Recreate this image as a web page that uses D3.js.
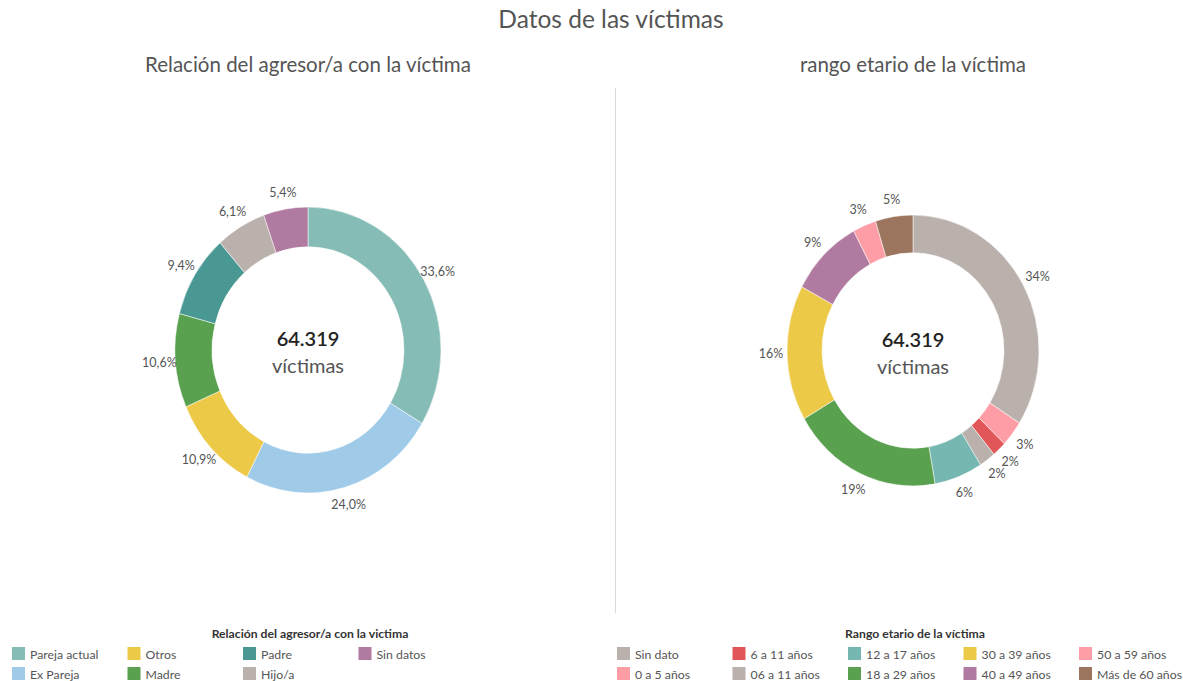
<!DOCTYPE html>
<html>
<head>
<meta charset="utf-8">
<script src="https://cdn.jsdelivr.net/npm/d3@7"></script>
<style>
  body { margin: 0; background: #fff; }
  svg { display: block; font-family: Lato, 'Open Sans', sans-serif; }
</style>
</head>
<body>
<svg class="victimasSVG" width="1183" height="681"></svg>
<script>
// data
const totalVictimas = 64319;

const relCats = ['Pareja actual', 'Ex Pareja', 'Otros', 'Madre', 'Padre', 'Hijo/a', 'Sin datos'];
const relPct = [33.6, 24.0, 10.9, 10.6, 9.4, 6.1, 5.4];
const relColors = ['#86bcb6', '#a0cbe8', '#edc948', '#59a14f', '#499894', '#bab0ac', '#b07aa1'];

const ageCats = ['Sin dato', '0 a 5 años', '6 a 11 años', '06 a 11 años', '12 a 17 años',
                 '18 a 29 años', '30 a 39 años', '40 a 49 años', '50 a 59 años', 'Más de 60 años'];
const agePct = [34.0, 3.1, 1.8, 2.1, 6.2, 19.4, 16.2, 9.4, 3.0, 4.8];
const ageColors = ['#bab0ac', '#ff9da7', '#e15759', '#bab0ac', '#76b7b2',
                   '#59a14f', '#edc948', '#b07aa1', '#ff9da7', '#9c755f'];

const es = d3.formatLocale({decimal: ',', thousands: '.', grouping: [3], currency: ['$', '']});

function drawDashboard(){
  const svg = d3.select('svg.victimasSVG');
  const stretch = 1.075; // the picture is a bit taller than wide

  svg.append('text')
    .text('Datos de las víctimas')
    .attrs({x: 611, y: 28, 'text-anchor': 'middle'})
    .styles({fill: '#555', 'font-size': '24.5px'});

  svg.append('line')
    .attrs({x1: 615.5, x2: 615.5, y1: 88, y2: 613})
    .styles({stroke: '#d9d9d9', 'stroke-width': 1});

  function drawDonut(opts){
    const {cats, vals, colors, cx, cy, rOuter, rInner, fmt, subtitle} = opts;

    svg.append('text')
      .text(subtitle)
      .attrs({x: cx, y: 72, 'text-anchor': 'middle'})
      .styles({fill: '#555', 'font-size': '20.5px'});

    const pie = d3.pie().sort(null).value(d => d);
    const arcs = pie(vals);
    const arc = d3.arc().innerRadius(rInner).outerRadius(rOuter);
    const labelArc = d3.arc().innerRadius(rOuter + 16).outerRadius(rOuter + 16);

    svg.append('g')
      .attr('transform', `translate(${cx},${cy}) scale(1,${stretch})`)
      .selectAll('path')
      .data(arcs)
      .enter()
      .append('path')
      .attr('d', arc)
      .style('fill', (d, i) => colors[i])
      .style('stroke', '#fff')
      .style('stroke-width', 0.5);

    svg.append('g')
      .selectAll('text')
      .data(arcs)
      .enter()
      .append('text')
      .text(d => fmt(d.data) + '%')
      .attrs({
        x: d => cx + labelArc.centroid(d)[0],
        y: d => cy + labelArc.centroid(d)[1] * stretch,
        'text-anchor': 'middle',
        'dominant-baseline': 'central'
      })
      .styles({fill: '#555', 'font-size': '12.5px'});

    svg.append('text')
      .text(es.format(',d')(totalVictimas))
      .attrs({x: cx, y: cy - 4, 'text-anchor': 'middle'})
      .styles({fill: '#222', 'font-size': '20px', 'font-weight': 600});

    svg.append('text')
      .text('víctimas')
      .attrs({x: cx, y: cy + 23, 'text-anchor': 'middle'})
      .styles({fill: '#555', 'font-size': '20px'});
  }

  drawDonut({
    cats: relCats, vals: relPct, colors: relColors,
    cx: 308, cy: 350, rOuter: 133, rInner: 96,
    fmt: es.format('.1f'),
    subtitle: 'Relación del agresor/a con la víctima'
  });

  drawDonut({
    cats: ageCats, vals: agePct, colors: ageColors,
    cx: 913, cy: 350.5, rOuter: 126, rInner: 91,
    fmt: es.format('.0f'),
    subtitle: 'rango etario de la víctima'
  });

  // legends, filled column by column, two rows
  function drawLegend(opts){
    const {cats, colors, x0, titleX, title} = opts;
    const colW = 115.5;
    const g = svg.append('g').attr('class', 'legend');

    g.append('text')
      .text(title)
      .attrs({x: titleX, y: 638, 'text-anchor': 'middle'})
      .styles({fill: '#333', 'font-size': '12.2px', 'font-weight': 700});

    const items = g.selectAll('g.item')
      .data(cats)
      .enter()
      .append('g')
      .attr('class', 'item')
      .attr('transform', (d, i) => `translate(${x0 + Math.floor(i / 2) * colW},${647 + (i % 2) * 20})`);

    items.append('rect')
      .attrs({x: 0, y: 0, width: 13, height: 13})
      .style('fill', (d, i) => colors[i]);

    items.append('text')
      .text(d => d)
      .attrs({x: 18, y: 7, 'dominant-baseline': 'central'})
      .styles({fill: '#555', 'font-size': '12.3px'});
  }

  drawLegend({cats: relCats, colors: relColors, x0: 12, titleX: 310,
              title: 'Relación del agresor/a con la victima'});
  drawLegend({cats: ageCats, colors: ageColors, x0: 617, titleX: 915,
              title: 'Rango etario de la víctima'});
}

// d3 v7 has no attrs/styles helpers, add small ones
d3.selection.prototype.attrs = function(o){ for (const k in o) this.attr(k, o[k]); return this; };
d3.selection.prototype.styles = function(o){ for (const k in o) this.style(k, o[k]); return this; };

drawDashboard();
</script>
</body>
</html>
